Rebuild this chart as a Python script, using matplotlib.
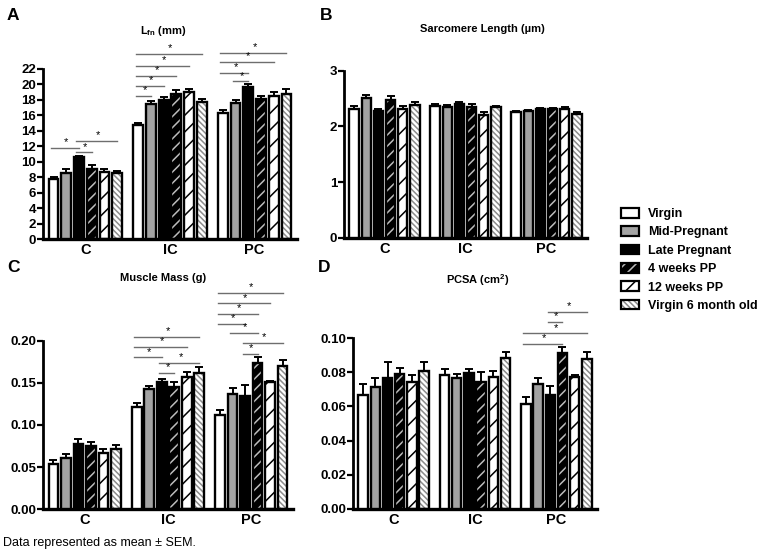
import numpy as np
import matplotlib
matplotlib.use("Agg")
import matplotlib.pyplot as plt
from matplotlib.patches import Patch
from matplotlib.legend_handler import HandlerTuple

plt.rcParams['font.family'] = ['Liberation Sans', 'DejaVu Sans']
plt.rcParams['font.weight'] = 'bold'
plt.rcParams['mathtext.fontset'] = 'custom'
plt.rcParams['mathtext.rm'] = 'Liberation Sans:bold'
plt.rcParams['mathtext.bf'] = 'Liberation Sans:bold'
plt.rcParams['mathtext.default'] = 'bf'
plt.rcParams['hatch.linewidth'] = 1.1

W, H = 762, 555

groups = ['C', 'IC', 'PC']
series = ['Virgin', 'Mid-Pregnant', 'Late Pregnant', '4 weeks PP', '12 weeks PP', 'Virgin 6 month old']

# Panel A: Lfn (mm)
lfn_mean = [[7.7, 8.5, 10.6, 9.1, 8.7, 8.5],
            [14.8, 17.5, 18.0, 18.7, 19.0, 17.7],
            [16.3, 17.6, 19.6, 18.1, 18.5, 18.8]]
lfn_sem = [[0.3, 0.6, 0.2, 0.5, 0.3, 0.3],
           [0.15, 0.4, 0.4, 0.6, 0.4, 0.45],
           [0.4, 0.4, 0.4, 0.4, 0.5, 0.6]]
# (group, bar i, bar j, line height)
lfn_sig = [(0, 0, 2, 11.8), (0, 2, 3, 11.2), (0, 2, 5, 12.7),
           (1, 0, 1, 18.5), (1, 0, 2, 19.8), (1, 0, 3, 21.1), (1, 0, 4, 22.4), (1, 0, 5, 23.9),
           (2, 1, 2, 20.4), (2, 0, 2, 21.5), (2, 0, 4, 22.9), (2, 0, 5, 24.1)]

# Panel B: Sarcomere length (um)
sl_mean = [[2.32, 2.51, 2.27, 2.47, 2.31, 2.38],
           [2.37, 2.34, 2.40, 2.34, 2.20, 2.34],
           [2.26, 2.28, 2.31, 2.31, 2.31, 2.23]]
sl_sem = [[0.05, 0.05, 0.05, 0.08, 0.05, 0.06],
          [0.04, 0.05, 0.03, 0.06, 0.05, 0.03],
          [0.02, 0.02, 0.02, 0.02, 0.04, 0.02]]

# Panel C: Muscle mass (g)
mm_mean = [[0.054, 0.0605, 0.078, 0.0755, 0.067, 0.071],
           [0.121, 0.1427, 0.151, 0.1455, 0.157, 0.161],
           [0.1115, 0.1365, 0.134, 0.174, 0.1505, 0.170]]
mm_sem = [[0.004, 0.005, 0.005, 0.004, 0.005, 0.005],
          [0.005, 0.004, 0.004, 0.006, 0.006, 0.008],
          [0.006, 0.007, 0.013, 0.006, 0.002, 0.007]]
mm_sig = [(1, 2, 3, 0.162), (1, 2, 5, 0.174), (1, 0, 2, 0.180), (1, 0, 4, 0.1925), (1, 0, 5, 0.2047),
          (2, 2, 3, 0.184), (2, 2, 5, 0.1976), (2, 1, 3, 0.2087), (2, 0, 2, 0.220),
          (2, 0, 3, 0.232), (2, 0, 4, 0.244), (2, 0, 5, 0.257)]

# Panel D: PCSA (cm2)
pcsa_mean = [[0.0667, 0.0716, 0.0769, 0.0789, 0.0746, 0.0808],
             [0.0785, 0.0765, 0.0795, 0.0746, 0.0775, 0.0883],
             [0.0613, 0.0732, 0.0667, 0.0916, 0.0775, 0.0877]]
pcsa_sem = [[0.0063, 0.005, 0.0094, 0.0035, 0.004, 0.005],
            [0.0035, 0.0023, 0.0027, 0.0058, 0.0033, 0.0039],
            [0.0045, 0.0033, 0.0053, 0.0035, 0.001, 0.0041]]
pcsa_sig = [(2, 0, 3, 0.0967), (2, 0, 5, 0.1029), (2, 2, 3, 0.1098), (2, 2, 5, 0.1157)]

# bar styles: (face, hatch, hatch colour)
styles = [('white', None, None),
          ('#a3a3a3', None, None),
          ('black', None, None),
          ('black', '///', '#bdbdbd'),
          ('white', '//', 'black'),
          ('white', '\\\\\\\\\\\\', '#8c8c8c')]

pitch = 0.15
width = 0.115


def px_axes(x0, x1, y_top, y_bot):
    return [x0 / W, 1 - y_bot / H, (x1 - x0) / W, (y_bot - y_top) / H]


def draw_panel(ax, mean, sem, ymax, top_tick, ticks, fmt, sig=()):
    mean = np.array(mean)
    sem = np.array(sem)
    for s in range(6):
        xs = np.arange(3) + (s - 2.5) * pitch
        face, hatch, hcol = styles[s]
        if hatch:
            ax.bar(xs, mean[:, s], width, color=face, edgecolor=hcol, hatch=hatch, linewidth=0, zorder=2)
            ax.bar(xs, mean[:, s], width, facecolor='none', edgecolor='black', linewidth=1.7, zorder=3)
        else:
            ax.bar(xs, mean[:, s], width, color=face, edgecolor='black', linewidth=1.7, zorder=3)
        ax.errorbar(xs, mean[:, s], yerr=[np.zeros(3), sem[:, s]], fmt='none', ecolor='black',
                    elinewidth=1.4, capsize=3, capthick=1.4, zorder=4)
    for g, i, j, h in sig:
        xi = g + (i - 2.5) * pitch
        xj = g + (j - 2.5) * pitch
        ax.plot([xi - 0.03, xj], [h, h], color='#6e6e6e', lw=1.0, clip_on=False, zorder=1)
        ax.annotate('*', ((xi + xj) / 2, h), xytext=(0, 0.5), textcoords='offset points',
                    ha='center', va='bottom', fontsize=8, fontweight='normal')
    ax.set_xlim(-0.5, 2.5)
    ax.set_ylim(0, ymax)
    ax.set_yticks(ticks)
    ax.set_yticklabels([fmt.format(t) for t in ticks], fontsize=9.5, fontweight='bold')
    ax.set_xticks(range(3))
    ax.set_xticklabels(groups, fontsize=10.5, fontweight='bold')
    ax.tick_params(axis='x', length=0, pad=3)
    ax.tick_params(axis='y', length=4, width=1.6, pad=1)
    for sp in ['top', 'right']:
        ax.spines[sp].set_visible(False)
    ax.spines['left'].set_linewidth(2.0)
    ax.spines['bottom'].set_linewidth(2.4)
    ax.spines['left'].set_bounds(0, top_tick)


fig = plt.figure(figsize=(W / 100, H / 100), dpi=100)

axA = fig.add_axes(px_axes(43, 297, 239 - 199, 239))
draw_panel(axA, lfn_mean, lfn_sem, 199 / 7.73, 22, list(range(0, 23, 2)), '{:d}', lfn_sig)

axB = fig.add_axes(px_axes(344, 587, 237.7 - 197.7, 237.7))
draw_panel(axB, sl_mean, sl_sem, 197.7 / 55.67, 3, [0, 1, 2, 3], '{:d}')

axC = fig.add_axes(px_axes(43, 293, 509.3 - 224.3, 509.3))
draw_panel(axC, mm_mean, mm_sem, 224.3 / 843.5, 0.2, [0, 0.05, 0.10, 0.15, 0.20], '{:.2f}', mm_sig)

axD = fig.add_axes(px_axes(353, 597, 508.7 - 208.7, 508.7))
draw_panel(axD, pcsa_mean, pcsa_sem, 208.7 / 1704, 0.1, [0, 0.02, 0.04, 0.06, 0.08, 0.10], '{:.2f}', pcsa_sig)

# panel letters and titles
for lab, x, y in [('A', 13, 15), ('B', 326, 15), ('C', 13, 268), ('D', 324, 268)]:
    fig.text(x / W, 1 - y / H, lab, fontsize=12.5, fontweight='bold', ha='center', va='center')
fig.text(163 / W, 1 - 31 / H, 'L$_{fn}$ (mm)', fontsize=8, ha='center', va='center')
fig.text(482 / W, 1 - 29 / H, 'Sarcomere Length (µm)', fontsize=8, ha='center', va='center')
fig.text(163 / W, 1 - 278 / H, 'Muscle Mass (g)', fontsize=8, ha='center', va='center')
fig.text(478 / W, 1 - 280 / H, 'PCSA (cm$^{2}$)', fontsize=8, ha='center', va='center')

# legend
handles = []
for s in range(6):
    face, hatch, hcol = styles[s]
    if hatch:
        handles.append((Patch(facecolor=face, edgecolor=hcol, hatch=hatch, linewidth=0),
                        Patch(facecolor='none', edgecolor='black', linewidth=1.6)))
    else:
        handles.append(Patch(facecolor=face, edgecolor='black', linewidth=1.6))
fig.legend(handles, series, loc='upper left', bbox_to_anchor=(621 / W, 1 - 208 / H),
           frameon=False, handlelength=1.45, handleheight=0.8, borderpad=0, borderaxespad=0,
           labelspacing=0.5, handletextpad=0.7, prop={'weight': 'bold', 'size': 9},
           handler_map={tuple: HandlerTuple(ndivide=1, pad=0)})

fig.text(3 / W, 1 - 543 / H, 'Data represented as mean ± SEM.', fontsize=9, fontweight='normal',
         family=['Liberation Sans Narrow', 'Liberation Sans', 'DejaVu Sans'], ha='left', va='center')

fig.savefig('out.png', dpi=100)
